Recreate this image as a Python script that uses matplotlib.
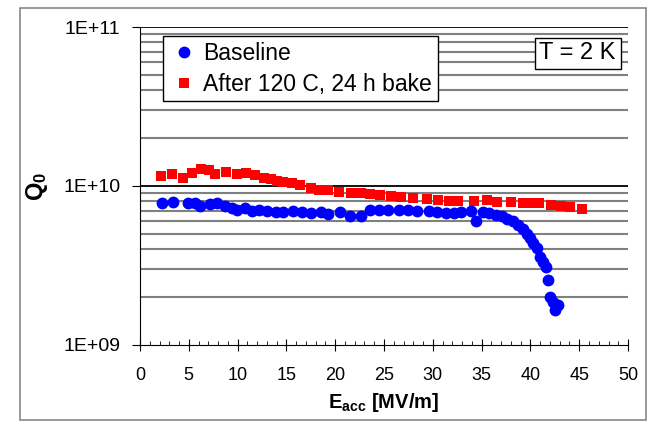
import numpy as np
import matplotlib
matplotlib.use("Agg")
import matplotlib.pyplot as plt
from matplotlib.ticker import FixedLocator, FuncFormatter, MultipleLocator
from matplotlib.patches import Rectangle

plt.rcParams['font.family'] = ['Liberation Sans', 'DejaVu Sans']
plt.rcParams['mathtext.fontset'] = 'custom'
plt.rcParams['mathtext.rm'] = 'Liberation Sans'
plt.rcParams['mathtext.bf'] = 'Liberation Sans:bold'

# baseline test, Q0 vs Eacc
base_e = [2.3, 3.4, 4.95, 5.65, 6.15, 7.2, 7.9, 8.7, 9.4, 9.9, 10.8, 11.5, 12.2, 13.0,
          13.9, 14.7, 15.7, 16.6, 17.5, 18.5, 19.3, 20.5, 21.5, 22.6, 23.6, 24.5, 25.4,
          26.5, 27.5, 28.4, 29.6, 30.4, 31.3, 32.2, 32.9, 33.9, 34.4, 35.1, 35.8, 36.5,
          37.1, 37.6, 38.2, 38.7, 39.2, 39.6, 40.0, 40.3, 40.7, 41.0, 41.3, 41.6, 41.8,
          42.0, 42.3, 42.8, 42.5]
base_q = [7.8e9, 7.9e9, 7.85e9, 7.8e9, 7.5e9, 7.7e9, 7.8e9, 7.5e9, 7.25e9, 7.1e9, 7.3e9,
          7.0e9, 7.1e9, 7.0e9, 6.9e9, 6.9e9, 7.0e9, 6.9e9, 6.8e9, 6.9e9, 6.7e9, 6.9e9,
          6.5e9, 6.5e9, 7.1e9, 7.1e9, 7.1e9, 7.1e9, 7.1e9, 7.0e9, 7.0e9, 6.9e9, 6.8e9,
          6.8e9, 6.9e9, 7.0e9, 6.0e9, 6.9e9, 6.8e9, 6.6e9, 6.45e9, 6.2e9, 6.0e9, 5.7e9,
          5.4e9, 5.0e9, 4.7e9, 4.4e9, 4.1e9, 3.6e9, 3.35e9, 3.1e9, 2.56e9, 2.0e9, 1.87e9,
          1.79e9, 1.66e9]

# after 120 C, 24 h bake
bake_e = [2.2, 3.3, 4.4, 5.3, 6.3, 7.1, 7.7, 8.8, 9.9, 10.9, 11.8, 12.7, 13.4, 14.0, 14.7,
          15.6, 16.4, 17.5, 18.3, 19.3, 20.4, 21.6, 22.6, 23.6, 24.6, 25.7, 26.7, 28.0,
          29.4, 30.5, 31.7, 32.6, 34.2, 35.6, 36.6, 38.0, 39.2, 40.0, 40.9, 42.1, 43.1,
          44.1, 45.3]
bake_q = [1.16e10, 1.19e10, 1.13e10, 1.20e10, 1.27e10, 1.26e10, 1.19e10, 1.23e10, 1.19e10,
          1.21e10, 1.17e10, 1.12e10, 1.11e10, 1.08e10, 1.065e10, 1.04e10, 1.015e10, 9.7e9,
          9.45e9, 9.45e9, 9.2e9, 9.05e9, 9.0e9, 8.87e9, 8.78e9, 8.65e9, 8.56e9, 8.37e9,
          8.25e9, 8.16e9, 8.08e9, 8.05e9, 8.1e9, 8.15e9, 7.97e9, 7.97e9, 7.85e9, 7.85e9,
          7.78e9, 7.6e9, 7.49e9, 7.41e9, 7.17e9]

fig = plt.figure(figsize=(6.49, 4.22), dpi=100)
ax = fig.add_axes([0.2157, 0.1825, 0.752, 0.7535])

# outer frame of the chart area
fig.patches.append(Rectangle((20/649, 2.5/422), 626/649, 412/422, transform=fig.transFigure,
                             fill=False, edgecolor='#888888', linewidth=1.2))

ax.set_yscale('log')
ax.set_ylim(1e9, 1e11)
ax.set_xlim(0, 50)

# gridlines like the spreadsheet look
for k in range(2, 10):
    ax.axhline(k * 1e9, color='#808080', lw=1.5, zorder=0)
    ax.axhline(k * 1e10, color='#808080', lw=1.5, zorder=0)
ax.axhline(1e10, color='black', lw=1.3, zorder=0)
ax.axhline(1e11, color='black', lw=1.3, zorder=0)

ax.plot(base_e, base_q, 'o', color='#0000ff', markersize=8.5, markeredgewidth=0,
        label='Baseline', zorder=3)
ax.plot(bake_e, bake_q, 's', color='#ff0000', markersize=7.5, markeredgewidth=0,
        label='After 120 C, 24 h bake', zorder=2)

ax.yaxis.set_major_locator(FixedLocator([1e9, 1e10, 1e11]))
ax.yaxis.set_minor_locator(FixedLocator([]))
ax.yaxis.set_major_formatter(FuncFormatter(lambda v, p: '1E+%02d' % round(np.log10(v))))
ax.xaxis.set_major_locator(MultipleLocator(5))
ax.xaxis.set_minor_locator(MultipleLocator(1))

ax.tick_params(axis='y', which='major', direction='out', length=6, labelsize=14, pad=8)
ax.tick_params(axis='x', which='major', direction='inout', length=8, labelsize=13, pad=12)
ax.tick_params(axis='x', which='minor', direction='in', length=3)

for s in ['top', 'right']:
    ax.spines[s].set_visible(False)

ax.set_xlabel(r'$\mathbf{E_{acc}}$ [MV/m]', fontsize=14.5, fontweight='bold', labelpad=5)
ax.set_ylabel(r'$\mathbf{Q_0}$', fontsize=17, fontweight='bold', labelpad=10)

leg = ax.legend(loc='upper left', bbox_to_anchor=(0.047, 0.972), fontsize=16.5,
                frameon=True, fancybox=False, edgecolor='black', framealpha=1,
                handletextpad=0.2, borderpad=0.25, labelspacing=0.35, handlelength=1.3,
                borderaxespad=0)
leg.get_frame().set_linewidth(1.0)

ax.text(0.975, 0.917, 'T = 2 K', transform=ax.transAxes, ha='right', va='center', fontsize=17,
        bbox=dict(boxstyle='square,pad=0.2', facecolor='white', edgecolor='black', lw=1.0))

fig.savefig('out.png', dpi=100)
